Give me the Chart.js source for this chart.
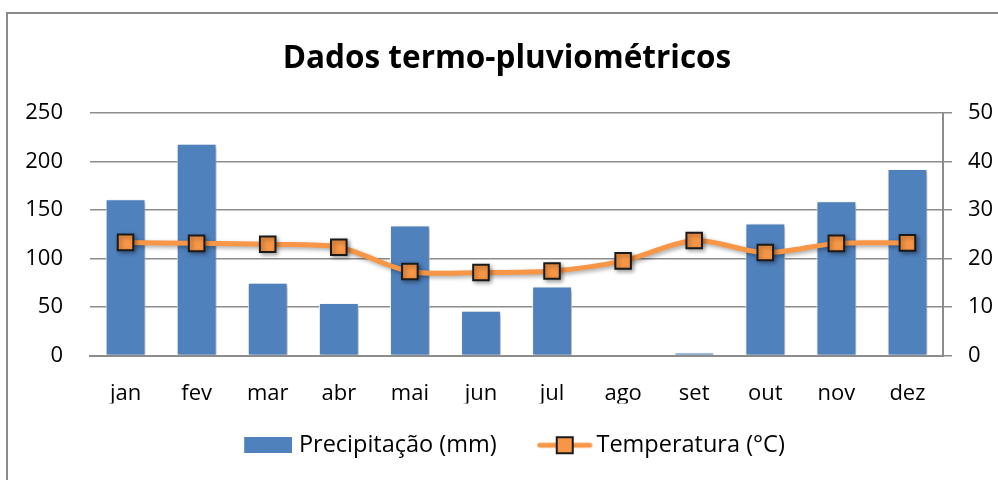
<!DOCTYPE html>
<html>
<head>
<meta charset="utf-8">
<script src="https://cdn.jsdelivr.net/npm/chart.js@4"></script>
<style>
  html, body { margin: 0; padding: 0; background: #fff; }
  #wrap { position: relative; width: 998px; height: 480px; overflow: hidden; }
  #frame { position: absolute; left: 6px; top: 12px; width: 1010px; height: 500px; border: 2px solid #8a8a8a; box-sizing: border-box; }
  canvas { position: absolute; left: 0; top: 0; }
</style>
</head>
<body>
<div id="wrap">
  <div id="frame"></div>
  <canvas id="chart" width="998" height="480"></canvas>
</div>
<script>
const months = ['jan', 'fev', 'mar', 'abr', 'mai', 'jun', 'jul', 'ago', 'set', 'out', 'nov', 'dez'];
const precipitation = [161, 218, 75, 54, 134, 46, 71, 0, 3, 136, 159, 192];
const temperature = [23.3, 23.1, 22.9, 22.3, 17.3, 17.1, 17.4, 19.5, 23.7, 21.2, 23.1, 23.2];
const leftTicks = [0, 50, 100, 150, 200, 250];
const rightTicks = [0, 10, 20, 30, 40, 50];

const BLUE = '#4f81bd';
const ORANGE = '#f79646';
const GRID = '#8c8c8c';
const FONT = "'Open Sans', 'Noto Sans', sans-serif";

// legend swatches drawn like the Excel ones (canvas is wider than the mark
// so the mark can sit off-centre inside the legend box)
function barSwatch() {
  const c = document.createElement('canvas');
  c.width = 68; c.height = 16;
  const g = c.getContext('2d');
  g.fillStyle = BLUE;
  g.fillRect(20, 0, 48, 16);
  return c;
}
function lineSwatch() {
  const c = document.createElement('canvas');
  c.width = 74; c.height = 20;
  const g = c.getContext('2d');
  const x0 = 18;
  g.strokeStyle = ORANGE;
  g.lineWidth = 5;
  g.lineCap = 'round';
  g.beginPath(); g.moveTo(x0 + 3, 10); g.lineTo(x0 + 53, 10); g.stroke();
  g.fillStyle = ORANGE;
  g.strokeStyle = '#1a1a1a';
  g.lineWidth = 2;
  g.fillRect(x0 + 20, 2, 16, 16);
  g.strokeRect(x0 + 20, 2, 16, 16);
  return c;
}

const shadowPlugin = {
  id: 'softShadow',
  beforeDatasetDraw(chart) {
    const ctx = chart.ctx;
    ctx.save();
    ctx.shadowColor = 'rgba(0,0,0,0.35)';
    ctx.shadowBlur = 4;
    ctx.shadowOffsetX = 2;
    ctx.shadowOffsetY = 2;
  },
  afterDatasetDraw(chart) {
    chart.ctx.restore();
  }
};

new Chart(document.getElementById('chart'), {
  type: 'bar',
  data: {
    labels: months,
    datasets: [
      {
        type: 'bar',
        label: 'Precipitação (mm)',
        data: precipitation,
        yAxisID: 'y',
        backgroundColor: BLUE,
        borderColor: '#ffffff',
        borderWidth: 1,
        categoryPercentage: 1,
        barPercentage: 0.56,
        order: 2
      },
      {
        type: 'line',
        label: 'Temperatura (°C)',
        data: temperature,
        yAxisID: 'y2',
        borderColor: ORANGE,
        borderWidth: 5,
        tension: 0.3,
        pointStyle: 'rect',
        pointRadius: 11,
        pointBackgroundColor: ORANGE,
        pointBorderColor: '#1a1a1a',
        pointBorderWidth: 2,
        order: 1
      }
    ]
  },
  options: {
    responsive: false,
    animation: false,
    layout: { padding: { left: 16, right: 0, top: 0, bottom: 13 } },
    scales: {
      x: {
        grid: { display: false },
        border: { display: true, color: GRID, width: 2 },
        ticks: { color: '#000', font: { family: FONT, size: 22 }, padding: 17 },
        afterFit(scale) { scale.height = 48; }
      },
      y: {
        position: 'left',
        min: 0, max: 250,
        afterBuildTicks(scale) { scale.ticks = leftTicks.map((v) => ({ value: v })); },
        grid: { color: GRID, lineWidth: 1.5, drawTicks: false },
        border: { display: false },
        ticks: { color: '#000', font: { family: FONT, size: 22 }, padding: 27 },
        afterFit(scale) { scale.width = 74; }
      },
      y2: {
        position: 'right',
        min: 0, max: 50,
        afterBuildTicks(scale) { scale.ticks = rightTicks.map((v) => ({ value: v })); },
        grid: { drawOnChartArea: false, color: GRID, lineWidth: 1.5, tickLength: 9 },
        border: { display: true, color: GRID, width: 2 },
        ticks: { color: '#000', font: { family: FONT, size: 22 }, padding: 16 },
        afterFit(scale) { scale.width = 55; }
      }
    },
    plugins: {
      title: {
        display: true,
        text: 'Dados termo-pluviométricos',
        color: '#000',
        font: { family: FONT, size: 31.5, weight: 'bold' },
        padding: { top: 40, bottom: 35 }
      },
      legend: {
        position: 'bottom',
        labels: {
          color: '#000',
          font: { family: FONT, size: 23.5 },
          usePointStyle: true,
          pointStyleWidth: 58,
          boxHeight: 16,
          padding: 30,
          generateLabels(chart) {
            return chart.data.datasets.map((ds, i) => ({
              text: ds.label,
              pointStyle: i === 0 ? barSwatch() : lineSwatch(),
              fillStyle: 'transparent',
              strokeStyle: 'transparent',
              lineWidth: 0,
              fontColor: '#000',
              datasetIndex: i,
              hidden: false
            }));
          }
        }
      },
      tooltip: { enabled: false }
    }
  },
  plugins: [shadowPlugin]
});
</script>
</body>
</html>
